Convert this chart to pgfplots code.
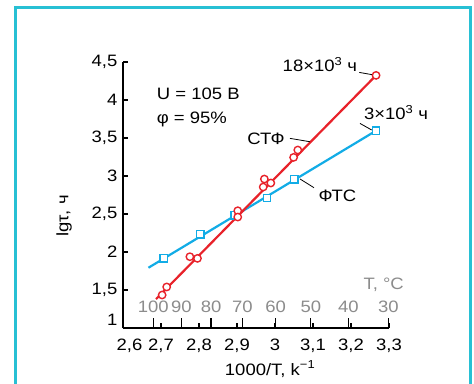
\documentclass[border=0pt]{standalone}
\usepackage{fontspec}
\setmainfont{Liberation Sans}[FakeStretch=1.12]
\usepackage{pgfplots}
\pgfplotsset{compat=1.18}
\definecolor{cred}{RGB}{232,34,42}
\definecolor{cblue}{RGB}{18,172,230}
\definecolor{cframe}{RGB}{40,192,212}
\definecolor{cgray}{RGB}{140,140,140}
\begin{document}
\fontsize{16.5}{19.5}\selectfont
\begin{tikzpicture}
\useasboundingbox (0,0) rectangle (474pt,383pt);
\fill[white] (0,0) rectangle (474pt,383pt);
\draw[cframe, line width=2.6pt] (15.3pt,-20pt) -- (15.3pt,375.7pt) -- (470.7pt,375.7pt) -- (470.7pt,-20pt);
\begin{axis}[
  at={(123pt,55pt)}, anchor=south west, scale only axis,
  width=266pt, height=266pt,
  xmin=2.6, xmax=3.3, ymin=1, ymax=4.5,
  axis x line*=bottom, axis y line*=left,
  axis line style={line width=1.1pt, black},
  tick style={black, line width=1.1pt},
  major tick length=5pt,
  tick align=inside,
  /pgf/number format/assume math mode=true,
  xtick={2.6,2.7,2.8,2.9,3.0,3.1,3.2,3.3},
  xticklabels={{\kern13pt 2,6},{2,7},{2,8},{2,9},{3},{3,1},{3,2},{3,3}},
  xticklabel style={anchor=base, yshift=-22pt},
  ytick={1,1.5,2,2.5,3,3.5,4,4.5},
  yticklabels={{\raisebox{17pt}{1}},{1,5},{2},{2,5},{3},{3,5},{4},{4,5}},
  extra x ticks={2.6799,2.7537,2.8317,2.9142,3.0017,3.0945,3.1934,3.2987},
  extra x tick labels={},
  extra x tick style={major tick length=10pt},
  clip=false,
]
\addplot[cblue, line width=2.2pt] coordinates {(2.667,1.793) (3.266,3.596)};
\addplot[cred, line width=2.2pt] coordinates {(2.687,1.38) (3.266,4.324)};
\addplot[only marks, mark=square*, mark size=3.7pt, mark options={draw=cblue, fill=white, line width=1.4pt}] coordinates {
  (2.707,1.916) (2.803,2.232) (2.894,2.482) (2.979,2.71) (3.051,2.955) (3.266,3.596)};
\addplot[only marks, mark=*, mark size=3.7pt, mark options={draw=cred, fill=white, line width=1.4pt}] coordinates {
  (2.703,1.434) (2.715,1.54) (2.776,1.938) (2.796,1.916) (2.902,2.543) (2.902,2.46)
  (2.972,2.96) (2.969,2.855) (2.989,2.908) (3.049,3.245) (3.060,3.342) (3.266,4.324)};
% leaders
\draw[black, line width=0.8pt] (axis cs:3.2218,4.363) -- (axis cs:3.2605,4.329);
\draw[black, line width=0.8pt] (axis cs:3.2237,3.692) -- (axis cs:3.2545,3.605);
\draw[black, line width=0.8pt] (axis cs:3.0395,3.495) -- (axis cs:3.0921,3.451);
\draw[black, line width=0.8pt] (axis cs:3.0658,2.961) -- (axis cs:3.1026,2.846);
% annotations
\node[anchor=base east, inner sep=0] at (axis cs:3.2166,4.372) {18×10\textsuperscript{3} ч};
\node[anchor=base east, inner sep=0] at (axis cs:3.4034,3.737) {3×10\textsuperscript{3} ч};
\node[anchor=base east, inner sep=0] at (axis cs:3.0263,3.408) {СТФ};
\node[anchor=base west, inner sep=0] at (axis cs:3.114,2.662) {ФТС};
\node[anchor=base west, inner sep=0] at (axis cs:2.6887,4.008) {U = 105 В};
\node[anchor=base west, inner sep=0] at (axis cs:2.6887,3.692) {φ = 95\%};
% Celsius scale
\node[cgray, anchor=base east, inner sep=0] at (axis cs:3.3395,1.513) {T, °C};
\node[cgray, anchor=base, inner sep=0] at ([yshift=15.7pt]axis cs:2.6799,1) {100};
\node[cgray, anchor=base, inner sep=0] at ([yshift=15.7pt]axis cs:2.7537,1) {90};
\node[cgray, anchor=base, inner sep=0] at ([yshift=15.7pt]axis cs:2.8317,1) {80};
\node[cgray, anchor=base, inner sep=0] at ([yshift=15.7pt]axis cs:2.9142,1) {70};
\node[cgray, anchor=base, inner sep=0] at ([yshift=15.7pt]axis cs:3.0017,1) {60};
\node[cgray, anchor=base, inner sep=0] at ([yshift=15.7pt]axis cs:3.0945,1) {50};
\node[cgray, anchor=base, inner sep=0] at ([yshift=15.7pt]axis cs:3.1934,1) {40};
\node[cgray, anchor=base, inner sep=0] at ([yshift=15.7pt]axis cs:3.2987,1) {30};
% axis labels
\node[rotate=90, inner sep=0] at ([xshift=-59pt]axis description cs:0,0.421) {lgτ, ч};
\node[anchor=base, inner sep=0] at ([yshift=-47pt]axis description cs:0.553,0) {1000/T, k\textsuperscript{−1}};
\end{axis}
\end{tikzpicture}
\end{document}
